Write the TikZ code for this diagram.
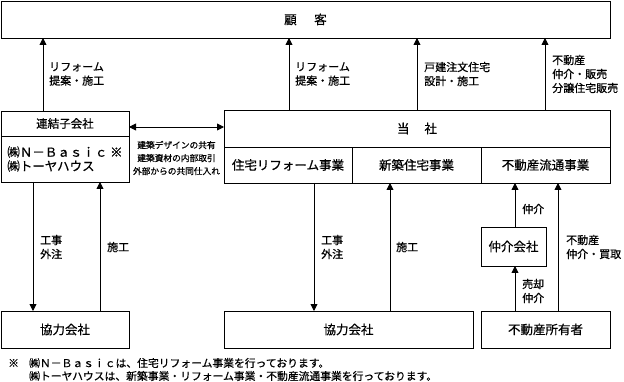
\documentclass[tikz,border=0pt]{standalone}
\usepackage{fontspec}
\setmainfont{Noto Sans CJK JP}[FakeBold=0.6]
\usetikzlibrary{arrows.meta,positioning}

\begin{document}
\begin{tikzpicture}[x=1pt,y=-1pt,
  box/.style={draw,line width=.9pt,anchor=north west,inner sep=0pt,outer sep=0pt,
    font=\fontsize{12.5}{14}\selectfont},
  lbl/.style={anchor=west,inner sep=0pt,align=left,font=\fontsize{11}{14}\selectfont},
  arr/.style={line width=.9pt,-{Triangle[width=7pt,length=7pt]}},
  ]
  \useasboundingbox (0,0) rectangle (624,382);
  % boxes
  \node[box,minimum width=609pt,minimum height=37pt] (kokyaku) at (1,1) {顧\hspace{1.4em}客};
  \node[box,minimum width=128pt,minimum height=25pt,font=\fontsize{11.5}{14}\selectfont] (renketsu) at (1,111) {連結子会社};
  \node[box,minimum width=128pt,minimum height=46pt,align=left] (kogaisha) at (renketsu.south west)
    {㈱Ｎ－Ｂａｓｉｃ ※\\㈱トーヤハウス};
  \node[box,minimum width=386pt,minimum height=37pt] (tosha) at (224,110) {当\hspace{1.2em}社};
  \node[box,minimum width=128pt,minimum height=36pt] (jigyoA) at (tosha.south west) {住宅リフォーム事業};
  \node[box,minimum width=129pt,minimum height=36pt] (jigyoB) at (jigyoA.north east) {新築住宅事業};
  \node[box,minimum width=129pt,minimum height=36pt] (jigyoC) at (jigyoB.north east) {不動産流通事業};
  \node[box,minimum width=128pt,minimum height=37pt] (kyoryokuA) at (1,311) {協力会社};
  \node[box,minimum width=249pt,minimum height=37pt] (kyoryokuB) at (224,311) {協力会社};
  \node[box,minimum width=65pt,minimum height=39pt] (chukai) at (481,227) {仲介会社};
  \node[box,minimum width=129pt,minimum height=37pt] (shoyusha) at (481,311) {不動産所有者};

  \foreach \n/\x in {c1/43,c2/289,c3/417,c4/545,d1/33,d2/100,d3/314,d4/390,d5/515,d6/558}
    \coordinate (\n) at (\x,0);
  \coordinate (h) at (0,127);

  % arrows
  \draw[arr] (renketsu.north -| c1) -- (kokyaku.south -| c1);
  \foreach \n in {c2,c3,c4}
    \draw[arr] (tosha.north -| \n) -- (kokyaku.south -| \n);
  \draw[line width=.9pt,{Triangle[width=7pt,length=7pt]}-{Triangle[width=7pt,length=7pt]}]
    (renketsu.east |- h) -- (tosha.west |- h);
  \draw[arr] (kogaisha.south -| d1) -- (kyoryokuA.north -| d1);
  \draw[arr] (kyoryokuA.north -| d2) -- (kogaisha.south -| d2);
  \draw[arr] (jigyoA.south -| d3) -- (kyoryokuB.north -| d3);
  \draw[arr] (kyoryokuB.north -| d4) -- (jigyoB.south -| d4);
  \draw[arr] (chukai.north -| d5) -- (jigyoC.south -| d5);
  \draw[arr] (shoyusha.north -| d5) -- (chukai.south -| d5);
  \draw[arr] (shoyusha.north -| d6) -- (jigyoC.south -| d6);

  % labels
  \node[lbl] (l1) at (49,74) {リフォーム\\提案・施工};
  \node[lbl] (l2) at (295,74) {リフォーム\\提案・施工};
  \node[lbl] (l3) at (424,74) {戸建注文住宅\\設計・施工};
  \node[lbl] (l4) at (552,74) {不動産\\仲介・販売\\分譲住宅販売};
  \node[inner sep=0pt,align=center,font=\fontsize{8.7}{13}\selectfont] (kyoyu) at (176.5,158)
    {建築デザインの共有\\建築資材の内部取引\\外部からの共同仕入れ};
  \node[lbl] (l5) at (40,247) {工事\\外注};
  \node[lbl] (l6) at (107,247) {施工};
  \node[lbl] (l7) at (321,247) {工事\\外注};
  \node[lbl] (l8) at (396,247) {施工};
  \node[lbl] (l9) at (522,209) {仲介};
  \node[lbl] (l10) at (522,291) {売却\\仲介};
  \node[lbl] (l11) at (566,247) {不動産\\仲介・買取};

  % note
  \node[lbl,font=\fontsize{10.8}{13}\selectfont] (kome) at (8,363) {※};
  \node[lbl,font=\fontsize{10.8}{13}\selectfont] (noteA) at (29,363) {㈱Ｎ－Ｂａｓｉｃは、住宅リフォーム事業を行っております。};
  \node[lbl,font=\fontsize{10.8}{13}\selectfont] (noteB) at (29,376) {㈱トーヤハウスは、新築事業・リフォーム事業・不動産流通事業を行っております。};
\end{tikzpicture}
\end{document}
